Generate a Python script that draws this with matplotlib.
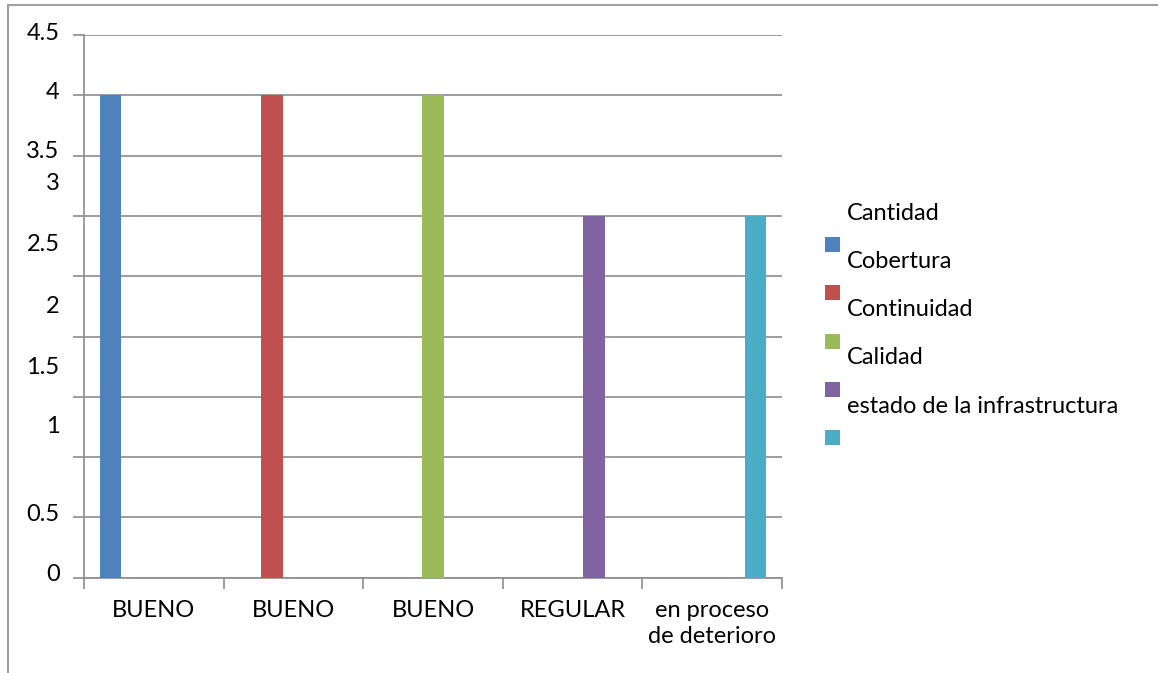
import matplotlib
matplotlib.use("Agg")
import matplotlib.pyplot as plt
from matplotlib.patches import Rectangle
import numpy as np

# Categorías y series (una barra por categoría)
categorias = ["BUENO", "BUENO", "BUENO", "REGULAR", "en proceso\nde deterioro"]
series = ["Cantidad", "Cobertura", "Continuidad", "Calidad", "estado de la infrastructura"]
valores = [
    [4, 0, 0, 0, 0],
    [0, 4, 0, 0, 0],
    [0, 0, 4, 0, 0],
    [0, 0, 0, 3, 0],
    [0, 0, 0, 0, 3],
]
colores = ["#4F81BD", "#C0504D", "#9BBB59", "#8064A2", "#4BACC6"]

# Marcas del eje y y las etiquetas tal como salen en la hoja
yticks = [0, 0.5, 1, 1.5, 2, 2.5, 3, 3.5, 4, 4.5]
ytick_textos = ["0", "0.5", "1", "1.5", "2", "2.5", "3", "3.5", "4", "4.5"]
ytick_pos_texto = [0.03, 0.52, 1.25, 1.74, 2.25, 2.76, 3.27, 3.53, 4.02, 4.51]

plt.rcParams['font.family'] = ['Lato', 'DejaVu Sans']
GRIS = "#8c8c8c"
FS = 17

W, H = 1158, 673
fig = plt.figure(figsize=(W / 100, H / 100), dpi=100)
ax = fig.add_axes([84 / W, 1 - 577.7 / H, 698 / W, 542.7 / H])

x = np.arange(len(categorias))
ancho = 0.155
for i, (nombre, vals) in enumerate(zip(series, valores)):
    ax.bar(x + (i - 2) * ancho, vals, width=ancho, color=colores[i], label=nombre, zorder=3)

ax.set_xlim(-0.5, len(categorias) - 0.5)
ax.set_ylim(0, 4.5)

# Líneas de división y ejes
ax.set_yticks(yticks)
ax.set_yticklabels([])
ax.grid(True, axis='y', color=GRIS, linewidth=1.2, zorder=0)
for lado in ['top', 'right']:
    ax.spines[lado].set_visible(False)
for lado in ['left', 'bottom']:
    ax.spines[lado].set_color(GRIS)
    ax.spines[lado].set_linewidth(1.2)
ax.tick_params(axis='y', length=8, width=1.2, color=GRIS)
ax.tick_params(axis='x', length=8, width=1.2, color=GRIS)

# Marcas del eje x en los límites de cada categoría, etiquetas centradas
ax.set_xticks(np.arange(len(categorias) + 1) - 0.5)
ax.set_xticklabels([])
ax.set_xticks(x, minor=True)
ax.set_xticklabels(categorias, minor=True, fontsize=FS, linespacing=1.32, va='top')
ax.tick_params(axis='x', which='minor', length=0, pad=16)

for pos, txt in zip(ytick_pos_texto, ytick_textos):
    ax.text(-0.035, pos, txt, transform=ax.get_yaxis_transform(),
            ha='right', va='center', fontsize=FS)

# Leyenda
for i, nombre in enumerate(series):
    fig.text(847 / W, 1 - (213 + 48.3 * i) / H, nombre, ha='left', va='center', fontsize=FS)
    fig.add_artist(Rectangle((825 / W, 1 - (252 + 48.3 * i) / H), 15 / W, 15 / H,
                             transform=fig.transFigure, facecolor=colores[i], edgecolor='none'))

# Marco del gráfico
fig.add_artist(Rectangle((8 / W, -0.1), 1.2, 1 - 5 / H + 0.1, transform=fig.transFigure,
                         fill=False, edgecolor="#a0a0a0", linewidth=1.5))

fig.savefig("out.png", dpi=100)
